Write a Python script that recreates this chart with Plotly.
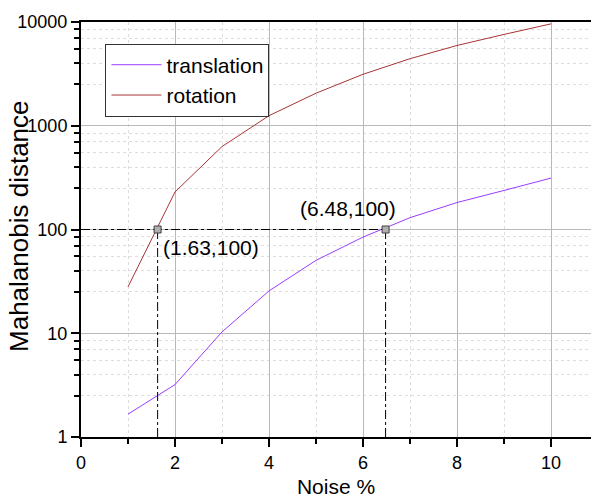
import math
import plotly.graph_objects as go

# ---- data ----
noise = [1, 2, 3, 4, 5, 6, 7, 8, 9, 10]
translation = [1.66, 3.2, 10.3, 25.6, 50.4, 84.5, 130, 182, 238, 313]
rotation = [28.0, 230, 630, 1250, 2060, 3134, 4430, 5940, 7590, 9600]
cross_x = [1.63, 6.48]
cross_y = [100, 100]
threshold = 100
x_major = [0, 2, 4, 6, 8, 10]
x_minor = [1, 3, 5, 7, 9]
y_major = [1, 10, 100, 1000, 10000]
y_major_text = ["1", "10", "100", "1000", "10000"]
minor_steps = [2.5, 4, 5.5, 7, 8.5]

FONT = "Liberation Sans, Arial, sans-serif"

y_minor = [m * d for d in [1, 10, 100, 1000] for m in minor_steps]

fig = go.Figure()
fig.add_trace(go.Scatter(x=noise, y=translation, mode="lines", name="translation",
                         line=dict(color="#9b3cff", width=1)))
fig.add_trace(go.Scatter(x=noise, y=rotation, mode="lines", name="rotation",
                         line=dict(color="#a83434", width=1)))

# dash-dot reference lines
lx, ly = [0, max(cross_x)], [threshold, threshold]
for cx in cross_x:
    lx += [None, cx, cx]
    ly += [None, 1, threshold]
fig.add_trace(go.Scatter(x=lx, y=ly, mode="lines", showlegend=False,
                         line=dict(color="black", width=1, dash="dashdot")))
fig.add_trace(go.Scatter(x=cross_x, y=cross_y, mode="markers", showlegend=False,
                         marker=dict(symbol="square", size=7, color="#b0b0b0",
                                     line=dict(color="#404040", width=1))))

shifts = [dict(xanchor="left", xshift=3, yshift=-18),
          dict(xanchor="right", xshift=12, yshift=21)]
for cx, cy, s in zip(cross_x, cross_y, shifts):
    fig.add_annotation(x=cx, y=math.log10(cy), text=f"({cx:g},{cy:g})", showarrow=False,
                       yanchor="middle", font=dict(size=21, color="black", family=FONT), **s)

# y-axis title as rotated text
fig.add_annotation(xref="paper", yref="paper", x=-0.122, y=0.508, text="Mahalanobis distance",
                   textangle=-90, showarrow=False, xanchor="center", yanchor="middle",
                   font=dict(size=26, color="black", family=FONT))

fig.update_layout(
    width=591, height=498,
    margin=dict(l=81, r=0, t=22, b=61),
    plot_bgcolor="white", paper_bgcolor="white",
    font=dict(family=FONT, color="black"),
    showlegend=True,
    legend=dict(x=0.048, y=0.948, xanchor="left", yanchor="top",
                bgcolor="white", bordercolor="#333333", borderwidth=1,
                itemwidth=50,
                font=dict(size=21, family=FONT), tracegroupgap=0),
    xaxis=dict(range=[0, 10.85], tickvals=x_major, automargin=False,
               showline=True, linecolor="black", linewidth=2, mirror=True,
               ticks="outside", ticklen=8, tickwidth=2, tickcolor="black",
               tickfont=dict(size=18), zeroline=False,
               showgrid=True, gridcolor="#b8b8b8", gridwidth=1,
               minor=dict(tickvals=x_minor, ticks="outside", ticklen=5,
                          tickwidth=2, tickcolor="black", showgrid=True,
                          gridcolor="#dddddd", griddash="dot", gridwidth=1),
               title=dict(text="Noise %", font=dict(size=21), standoff=16)),
    yaxis=dict(type="log", range=[0, 4], tickvals=y_major, ticktext=y_major_text,
               automargin=False,
               showline=True, linecolor="black", linewidth=2,
               ticks="outside", ticklen=8, tickwidth=2, tickcolor="black",
               tickfont=dict(size=18), zeroline=False,
               showgrid=True, gridcolor="#b8b8b8", gridwidth=1,
               minor=dict(tickvals=y_minor, ticks="outside", ticklen=5,
                          tickwidth=2, tickcolor="black", showgrid=True,
                          gridcolor="#dddddd", griddash="dot", gridwidth=1)),
)

fig.write_html("out.html")
